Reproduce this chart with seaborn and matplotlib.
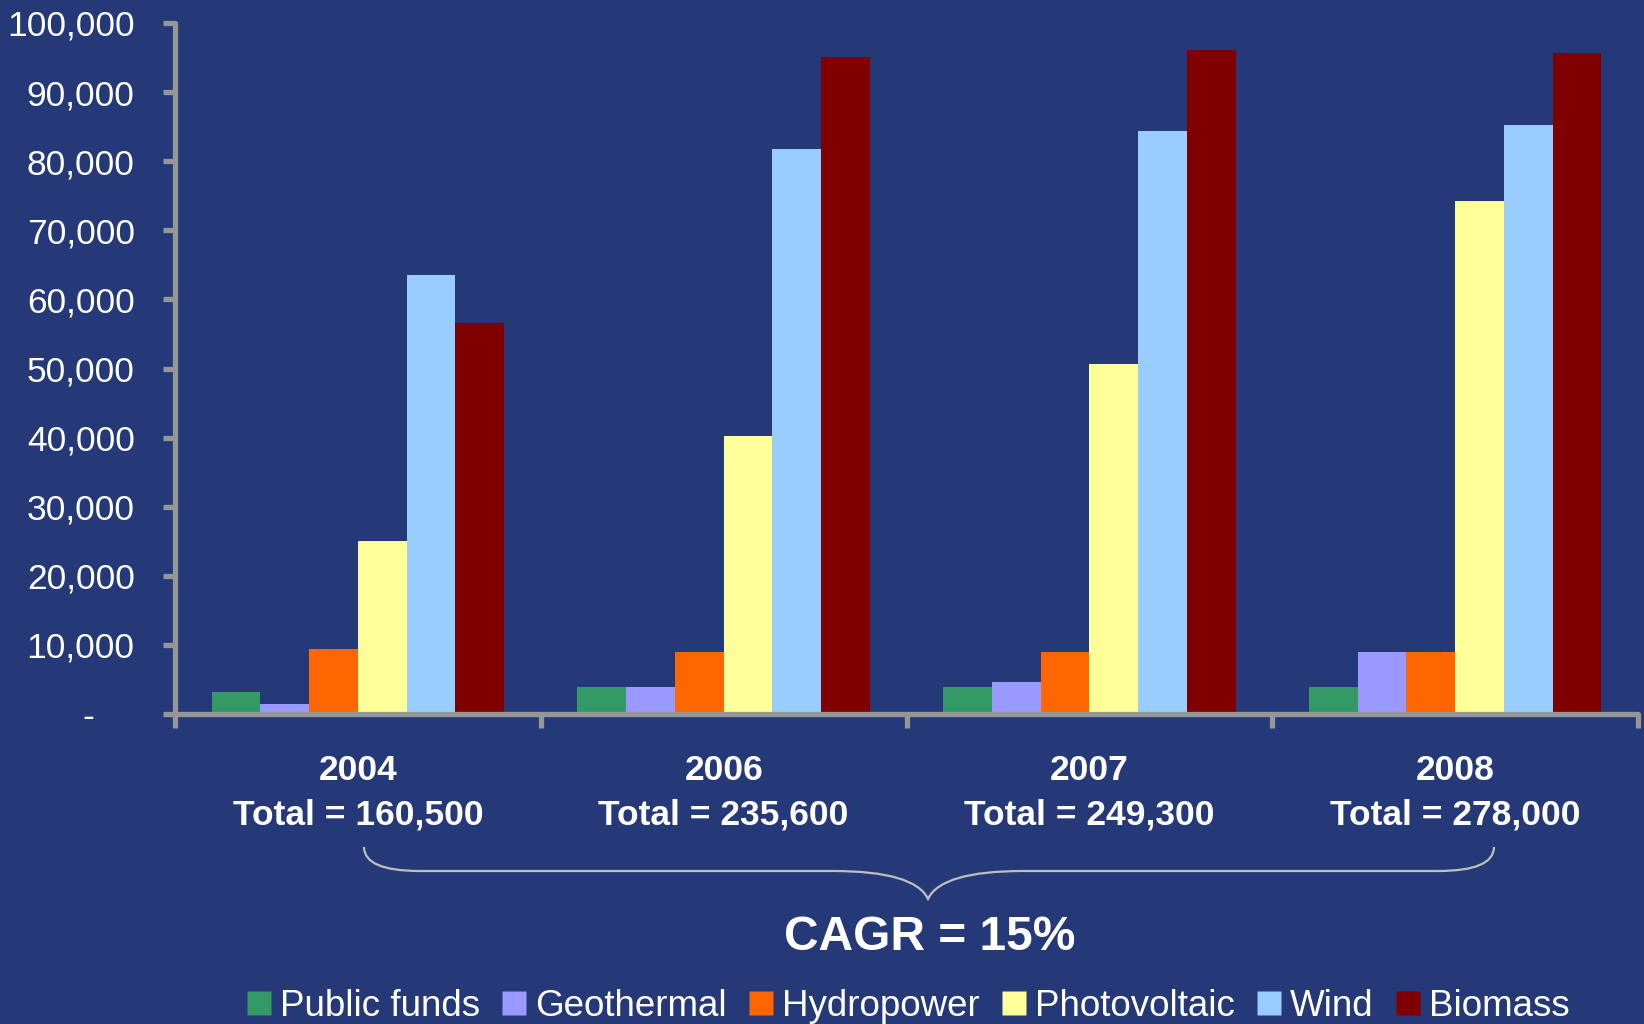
import numpy as np
import pandas as pd
import matplotlib
matplotlib.use("Agg")
import matplotlib.pyplot as plt
import seaborn as sns
from matplotlib.lines import Line2D
from matplotlib.path import Path
from matplotlib.patches import PathPatch
from matplotlib.ticker import FuncFormatter

# ---- data ----
years = ["2004", "2006", "2007", "2008"]
totals = ["160,500", "235,600", "249,300", "278,000"]
sources = ["Public funds", "Geothermal", "Hydropower", "Photovoltaic", "Wind", "Biomass"]
public_funds = [3200, 3900, 3900, 3900]
geothermal = [1500, 3900, 4600, 9000]
hydropower = [9400, 9000, 9000, 9000]
photovoltaic = [25100, 40300, 50700, 74300]
wind = [63600, 81800, 84400, 85300]
biomass = [56600, 95100, 96100, 95700]
colors = ["#339966", "#9999FF", "#FF6600", "#FFFF99", "#99CCFF", "#800000"]
cagr_text = "CAGR = 15%"

series = [public_funds, geothermal, hydropower, photovoltaic, wind, biomass]
df = pd.DataFrame(
    [(y, s, v[i]) for s, v in zip(sources, series) for i, y in enumerate(years)],
    columns=["year", "source", "value"],
)

BG = "#253878"
GRAY = "#969696"

sns.set_style("white")
plt.rcParams["font.family"] = ["Liberation Sans", "DejaVu Sans"]

fig = plt.figure(figsize=(16.44, 10.24), dpi=100, facecolor=BG)
ax = fig.add_axes([175 / 1644, 1 - 714 / 1024, (1638 - 175) / 1644, (714 - 23) / 1024])
ax.set_facecolor(BG)

sns.barplot(data=df, x="year", y="value", hue="source", hue_order=sources,
            order=years, palette=colors, saturation=1, width=0.8,
            linewidth=0, edgecolor="none", legend=False, ax=ax, errorbar=None)

ax.set_ylim(0, 100000)
ax.set_xlim(-0.5, 3.5)
ax.set_yticks(np.arange(0, 100001, 10000))
ax.yaxis.set_major_formatter(FuncFormatter(lambda v, p: "-    " if v == 0 else f"{v:,.0f}"))
ax.set_xlabel("")
ax.set_ylabel("")

for side in ["top", "right"]:
    ax.spines[side].set_visible(False)
for side in ["left", "bottom"]:
    ax.spines[side].set_color(GRAY)
    ax.spines[side].set_linewidth(3.8)
    ax.spines[side].set_capstyle("round")

ax.tick_params(axis="y", colors=GRAY, length=9, width=3.8, direction="out",
               labelcolor="white", labelsize=25.5, pad=20, left=True)
for t in ax.yaxis.get_ticklines():
    t.set_solid_capstyle("round")

ax.set_xticks(range(len(years)))
ax.set_xticklabels([f"{y}\nTotal = {t}" for y, t in zip(years, totals)],
                   fontsize=25.5, fontweight="bold", color="white", linespacing=1.42)
ax.tick_params(axis="x", which="major", length=0, pad=29)
ax.set_xticks(np.arange(-0.5, 3.6, 1.0), minor=True)
ax.tick_params(axis="x", which="minor", length=10, width=3.8, color=GRAY, direction="out", bottom=True)
for t in ax.xaxis.get_minorticklines():
    t.set_solid_capstyle("round")

# brace
W, H = 1644, 1024
def fp(x, y):
    return (x / W, 1 - y / H)
verts = [fp(364, 847), fp(364, 871), fp(420, 871), fp(833, 871), fp(915, 871), fp(928, 899),
         fp(941, 871), fp(1023, 871), fp(1438, 871), fp(1494, 871), fp(1494, 847)]
codes = [Path.MOVETO, Path.CURVE3, Path.CURVE3, Path.LINETO, Path.CURVE3, Path.CURVE3,
         Path.CURVE3, Path.CURVE3, Path.LINETO, Path.CURVE3, Path.CURVE3]
brace = PathPatch(Path(verts, codes), transform=fig.transFigure, facecolor="none",
                  edgecolor="#BFBFBF", lw=1.6)
fig.patches.append(brace)

fig.text(930 / W, 1 - 937 / H, cagr_text, ha="center", va="center",
         fontsize=34.5, fontweight="bold", color="white")

handles = [Line2D([], [], marker="s", linestyle="none", markersize=17,
                  markerfacecolor=c, markeredgecolor="none") for c in colors]
leg = fig.legend(handles, sources, loc="center", bbox_to_anchor=(908 / W, 1 - 1006 / H),
                 ncol=6, frameon=False, fontsize=26.5, handlelength=0.7,
                 handletextpad=0.22, columnspacing=0.58, borderpad=0, labelcolor="white")

fig.savefig("out.png", dpi=100, facecolor=BG)
